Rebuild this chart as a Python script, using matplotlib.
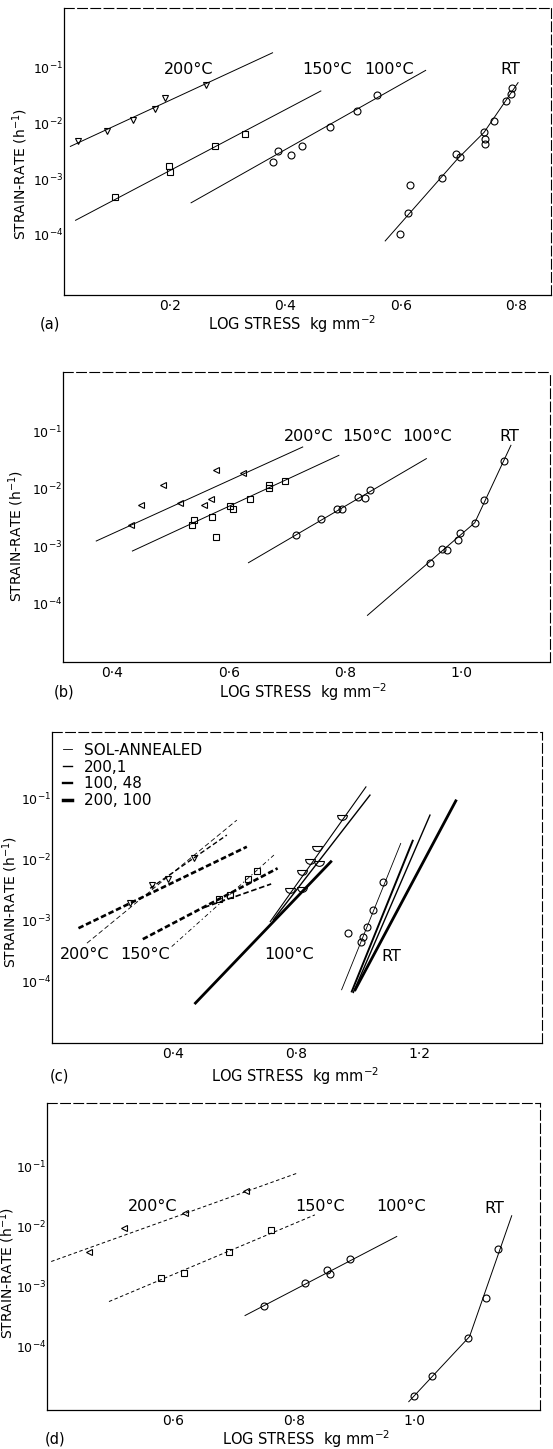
import numpy as np
import matplotlib
matplotlib.use('Agg')
import matplotlib.pyplot as plt
from matplotlib.path import Path
from matplotlib.lines import Line2D
from matplotlib.ticker import NullLocator

plt.rcParams['font.family'] = ['DejaVu Sans']
plt.rcParams['mathtext.fontset'] = 'dejavusans'
plt.rcParams['lines.scale_dashes'] = False

# ---------------- data ----------------
ytick_vals = [1e-1, 1e-2, 1e-3, 1e-4]
ytick_labels = [r'$10^{-1}$', r'$10^{-2}$', r'$10^{-3}$', r'$10^{-4}$']

# panel (a)
a_xticks = [0.2, 0.4, 0.6, 0.8]
a_xticklabels = ['0·2', '0·4', '0·6', '0·8']
a200_line_x = [0.028, 0.378]
a200_line_y = [3.85e-3, 0.184]
a200_x = [0.041, 0.092, 0.136, 0.175, 0.191, 0.262]
a200_y = [4.87e-3, 7.14e-3, 1.155e-2, 1.84e-2, 2.81e-2, 4.87e-2]
a150_line_x = [0.037, 0.4616]
a150_line_y = [1.82e-4, 3.80e-2]
a150_x = [0.105, 0.198, 0.201, 0.278, 0.331]
a150_y = [4.74e-4, 1.74e-3, 1.32e-3, 3.85e-3, 6.41e-3]
a100_line_x = [0.237, 0.643]
a100_line_y = [3.75e-4, 8.89e-2]
a100_x = [0.379, 0.387, 0.410, 0.429, 0.477, 0.524, 0.558]
a100_y = [2.00e-3, 3.23e-3, 2.70e-3, 3.96e-3, 8.66e-3, 1.67e-2, 3.27e-2]
aRT_line_x = [0.573, 0.698, 0.744, 0.803]
aRT_line_y = [7.76e-5, 2.29e-3, 6.85e-3, 5.36e-2]
aRT_x = [0.599, 0.613, 0.616, 0.671, 0.696, 0.703, 0.744, 0.745, 0.745, 0.761, 0.782, 0.791, 0.793]
aRT_y = [1.02e-4, 2.45e-4, 7.98e-4, 1.05e-3, 2.81e-3, 2.52e-3, 6.85e-3, 5.21e-3, 4.25e-3,
         1.08e-2, 2.52e-2, 3.41e-2, 4.37e-2]
a_labels = ['200°C', '150°C', '100°C', 'RT']
a_label_x = [0.232, 0.4726, 0.579, 0.789]
a_label_y = [0.0927, 0.0927, 0.0927, 0.0927]

# panel (b)
b_xticks = [0.4, 0.6, 0.8, 1.0]
b_xticklabels = ['0·4', '0·6', '0·8', '1·0']
b200_line_x = [0.373, 0.727]
b200_line_y = [1.23e-3, 5.31e-2]
b200_x = [0.432, 0.449, 0.487, 0.517, 0.557, 0.570, 0.579, 0.625]
b200_y = [2.30e-3, 5.13e-3, 1.14e-2, 5.64e-3, 5.13e-3, 6.70e-3, 2.14e-2, 1.87e-2]
b150_line_x = [0.435, 0.789]
b150_line_y = [8.24e-4, 3.80e-2]
b150_x = [0.538, 0.540, 0.571, 0.578, 0.602, 0.607, 0.637, 0.669, 0.670, 0.696]
b150_y = [2.30e-3, 2.81e-3, 3.21e-3, 1.44e-3, 5.00e-3, 4.38e-3, 6.70e-3, 1.04e-2, 1.14e-2, 1.36e-2]
b100_line_x = [0.634, 0.939]
b100_line_y = [5.16e-4, 3.33e-2]
b100_x = [0.715, 0.759, 0.785, 0.794, 0.821, 0.833, 0.842]
b100_y = [1.54e-3, 3.01e-3, 4.49e-3, 4.49e-3, 7.16e-3, 6.97e-3, 9.35e-3]
bRT_line_x = [0.838, 1.022, 1.084]
bRT_line_y = [6.27e-5, 2.56e-3, 5.68e-2]
bRT_x = [0.946, 0.965, 0.975, 0.994, 0.997, 1.022, 1.037, 1.072]
bRT_y = [5.16e-4, 9.06e-4, 8.47e-4, 1.26e-3, 1.72e-3, 2.56e-3, 6.27e-3, 3.03e-2]
b_labels = ['200°C', '150°C', '100°C', 'RT']
b_label_x = [0.737, 0.837, 0.940, 1.081]
b_label_y = [0.0793, 0.0793, 0.0793, 0.0793]

# panel (c)
c_xticks = [0.4, 0.8, 1.2]
c_xticklabels = ['0·4', '0·8', '1·2']
c_legend_labels = ['SOL-ANNEALED', '200,1', '100, 48', '200, 100']
c_legend_widths = [0.6, 1.0, 1.7, 2.5]
# 200 C dashed lines
c200_sol_x = [0.1195, 0.6065]
c200_sol_y = [4.32e-4, 4.48e-2]
c200_1_x = [0.325, 0.574]
c200_1_y = [3.42e-3, 2.55e-2]
c200_100_x = [0.092, 0.639]
c200_100_y = [7.60e-4, 1.64e-2]
c200_x = [0.260, 0.330, 0.384, 0.466]
c200_y = [1.95e-3, 3.88e-3, 4.86e-3, 1.06e-2]
# 150 C dashed lines
c150_sol_x = [0.395, 0.727]
c150_sol_y = [3.80e-4, 1.20e-2]
c150_100_x = [0.301, 0.739]
c150_100_y = [5.02e-4, 7.28e-3]
c150_48_x = [0.50, 0.718]
c150_48_y = [1.66e-3, 4.03e-3]
c150_x = [0.547, 0.583, 0.644, 0.672]
c150_y = [2.29e-3, 2.66e-3, 4.86e-3, 6.65e-3]
# 100 C solid lines
c100_100_x = [0.472, 0.912]
c100_100_y = [4.51e-5, 9.33e-3]
c100_sol_x = [0.715, 1.026]
c100_sol_y = [9.75e-4, 0.157]
c100_1_x = [0.725, 1.039]
c100_1_y = [1.04e-3, 0.115]
c100_x = [0.947, 0.868, 0.844, 0.873, 0.818, 0.780, 0.818]
c100_y = [5.41e-2, 1.68e-2, 1.02e-2, 9.68e-3, 6.82e-3, 3.42e-3, 3.56e-3]
# RT solid lines
cRT_sol_x = [0.947, 1.139]
cRT_sol_y = [7.45e-5, 1.86e-2]
cRT_48_x = [0.980, 1.178]
cRT_48_y = [6.98e-5, 2.06e-2]
cRT_1_x = [0.985, 1.234]
cRT_1_y = [6.73e-5, 5.41e-2]
cRT_100_x = [0.991, 1.318]
cRT_100_y = [7.45e-5, 9.27e-2]
cRT_x = [1.0825, 1.050, 1.029, 1.016, 1.009, 0.969]
cRT_y = [4.39e-3, 1.51e-3, 8.07e-4, 5.42e-4, 4.59e-4, 6.30e-4]
c_labels = ['200°C', '150°C', '100°C', 'RT']
c_label_x = [0.112, 0.307, 0.775, 1.107]
c_label_y = [2.78e-4, 2.78e-4, 2.78e-4, 2.61e-4]

# panel (d)
d_xticks = [0.6, 0.8, 1.0]
d_xticklabels = ['0·6', '0·8', '1·0']
d200_line_x = [0.397, 0.806]
d200_line_y = [2.61e-3, 7.74e-2]
d200_x = [0.460, 0.518, 0.620, 0.721]
d200_y = [3.69e-3, 9.38e-3, 1.67e-2, 3.93e-2]
d150_line_x = [0.493, 0.835]
d150_line_y = [5.62e-4, 1.56e-2]
d150_x = [0.580, 0.617, 0.693, 0.762]
d150_y = [1.38e-3, 1.67e-3, 3.83e-3, 8.57e-3]
d100_line_x = [0.719, 0.971]
d100_line_y = [3.29e-4, 6.81e-3]
d100_x = [0.750, 0.819, 0.855, 0.860, 0.893]
d100_y = [4.82e-4, 1.14e-3, 1.90e-3, 1.61e-3, 2.86e-3]
dRT_line_x = [0.991, 1.092, 1.162]
dRT_line_y = [1.21e-5, 1.47e-4, 1.51e-2]
dRT_x = [0.999, 1.029, 1.089, 1.120, 1.140]
dRT_y = [1.51e-5, 3.24e-5, 1.38e-4, 6.40e-4, 4.25e-3]
d_labels = ['200°C', '150°C', '100°C', 'RT']
d_label_x = [0.566, 0.844, 0.978, 1.133]
d_label_y = [2.15e-2, 2.15e-2, 2.15e-2, 2.0e-2]

# ---------------- figure ----------------
W, H = 553, 1449
fig = plt.figure(figsize=(W / 100, H / 100), dpi=100)


def add_axes(x0, y0, x1, y1):
    return fig.add_axes([x0 / W, 1 - y1 / H, (x1 - x0) / W, (y1 - y0) / H])


def style(ax, xlim, ylog, xt, xtl, letter, letter_xy, xlabel_xy, ylabel_xy):
    ax.set_yscale('log')
    ax.set_xlim(*xlim)
    ax.set_ylim(10 ** ylog[0], 10 ** ylog[1])
    ax.set_xticks(xt)
    ax.set_xticklabels(xtl)
    ax.set_yticks(ytick_vals)
    ax.set_yticklabels(ytick_labels)
    ax.yaxis.set_minor_locator(NullLocator())
    ax.xaxis.set_minor_locator(NullLocator())
    ax.tick_params(length=0)
    ax.tick_params(axis='x', pad=3, labelsize=10)
    ax.tick_params(axis='y', pad=0.5, labelsize=9)
    for s in ['left', 'bottom']:
        ax.spines[s].set_linewidth(0.9)
    for s in ['top', 'right']:
        ax.spines[s].set_linewidth(0.8)
        ax.spines[s].set_linestyle((0, (7, 2.5)))
    fig.text(letter_xy[0] / W, 1 - letter_xy[1] / H, letter, fontsize=10.5,
             ha='center', va='center')
    fig.text(xlabel_xy[0] / W, 1 - xlabel_xy[1] / H,
             r'LOG STRESS  kg mm$^{-2}$', fontsize=10.5, ha='center', va='center')
    fig.text(ylabel_xy[0] / W, 1 - ylabel_xy[1] / H,
             r'STRAIN-RATE (h$^{-1}$)', fontsize=10, ha='center', va='center',
             rotation=90)


def pts(ax, x, y, m, ms=5):
    ax.plot(x, y, ls='none', marker=m, ms=ms, mfc='none', mec='k', mew=0.8)


def texts(ax, labels, xs, ys):
    for t, x, y in zip(labels, xs, ys):
        ax.text(x, y, t, fontsize=11.5, ha='center', va='center')


thin = 0.7
# ---- (a)
ax = add_axes(64, 8, 551, 295)
style(ax, (0.017, 0.86), (-5.08, 0.068), a_xticks, a_xticklabels, '(a)',
      (50, 324), (292, 324), (20, 174))
ax.plot(a200_line_x, a200_line_y, 'k-', lw=thin)
ax.plot(a150_line_x, a150_line_y, 'k-', lw=thin)
ax.plot(a100_line_x, a100_line_y, 'k-', lw=thin)
ax.plot(aRT_line_x, aRT_line_y, 'k-', lw=thin)
pts(ax, a200_x, a200_y, 'v', 4.5)
pts(ax, a150_x, a150_y, 's', 4.5)
pts(ax, a100_x, a100_y, 'o')
pts(ax, aRT_x, aRT_y, 'o')
texts(ax, a_labels, a_label_x, a_label_y)

# ---- (b)
ax = add_axes(63, 372, 550, 662)
style(ax, (0.316, 1.151), (-5.014, 0.029), b_xticks, b_xticklabels, '(b)',
      (64, 692), (303, 692), (16, 536))
ax.plot(b200_line_x, b200_line_y, 'k-', lw=thin)
ax.plot(b150_line_x, b150_line_y, 'k-', lw=thin)
ax.plot(b100_line_x, b100_line_y, 'k-', lw=thin)
ax.plot(bRT_line_x, bRT_line_y, 'k-', lw=thin)
pts(ax, b200_x, b200_y, '<', 4.5)
pts(ax, b150_x, b150_y, 's', 4.5)
pts(ax, b100_x, b100_y, 'o')
pts(ax, bRT_x, bRT_y, 'o')
texts(ax, b_labels, b_label_x, b_label_y)

# ---- (c)
ax = add_axes(52, 732, 542, 1043)
style(ax, (0.006, 1.598), (-5.0, 0.095), c_xticks, c_xticklabels, '(c)',
      (59, 1076), (295, 1076), (10, 902))
w_sol, w_1, w_48, w_100 = c_legend_widths
dash_thin = (0, (3.5, 2))
dash_thick = (0, (4, 2))
ax.plot(c200_sol_x, c200_sol_y, color='k', lw=w_sol, ls=dash_thin)
ax.plot(c200_1_x, c200_1_y, color='k', lw=w_1, ls=dash_thin)
ax.plot(c200_100_x, c200_100_y, color='k', lw=w_48 + 0.2, ls=dash_thick)
ax.plot(c150_sol_x, c150_sol_y, color='k', lw=w_sol, ls=(0, (3, 2, 1, 2)))
ax.plot(c150_100_x, c150_100_y, color='k', lw=w_48 + 0.2, ls=dash_thick)
ax.plot(c150_48_x, c150_48_y, color='k', lw=w_1 + 0.2, ls=dash_thick)
ax.plot(c100_100_x, c100_100_y, color='k', lw=w_100 - 0.5)
ax.plot(c100_sol_x, c100_sol_y, color='k', lw=w_sol + 0.2)
ax.plot(c100_1_x, c100_1_y, color='k', lw=w_1)
ax.plot(cRT_sol_x, cRT_sol_y, color='k', lw=w_sol)
ax.plot(cRT_48_x, cRT_48_y, color='k', lw=w_48 - 0.3)
ax.plot(cRT_1_x, cRT_1_y, color='k', lw=w_1)
ax.plot(cRT_100_x, cRT_100_y, color='k', lw=w_100 - 0.5)
half = Path.arc(180, 360)
half = Path(np.vstack([half.vertices, half.vertices[:1]]),
            np.concatenate([half.codes, [Path.CLOSEPOLY]]))
pts(ax, c200_x, c200_y, 'v', 4.5)
pts(ax, c150_x, c150_y, 's', 4.5)
pts(ax, c100_x, c100_y, half, 7)
pts(ax, cRT_x, cRT_y, 'o')
texts(ax, c_labels, c_label_x, c_label_y)
handles = [Line2D([], [], color='k', lw=w) for w in c_legend_widths]
ax.legend(handles, c_legend_labels, loc='upper left', frameon=False,
          handlelength=0.6, handletextpad=0.8, fontsize=11, labelspacing=0.12,
          borderaxespad=0.45, borderpad=0.25)

# ---- (d)
ax = add_axes(47, 1103, 540, 1410)
style(ax, (0.390, 1.209), (-5.056, 0.056), d_xticks, d_xticklabels, '(d)',
      (55, 1439), (306, 1439), (7.5, 1273))
ax.plot(d200_line_x, d200_line_y, color='k', lw=thin, ls=(0, (2.5, 1.8)))
ax.plot(d150_line_x, d150_line_y, color='k', lw=thin, ls=(0, (2.5, 1.8)))
ax.plot(d100_line_x, d100_line_y, 'k-', lw=thin)
ax.plot(dRT_line_x, dRT_line_y, 'k-', lw=thin)
pts(ax, d200_x, d200_y, '<', 4.5)
pts(ax, d150_x, d150_y, 's', 4.5)
pts(ax, d100_x, d100_y, 'o')
pts(ax, dRT_x, dRT_y, 'o')
texts(ax, d_labels, d_label_x, d_label_y)

fig.savefig('out.png', dpi=100)
